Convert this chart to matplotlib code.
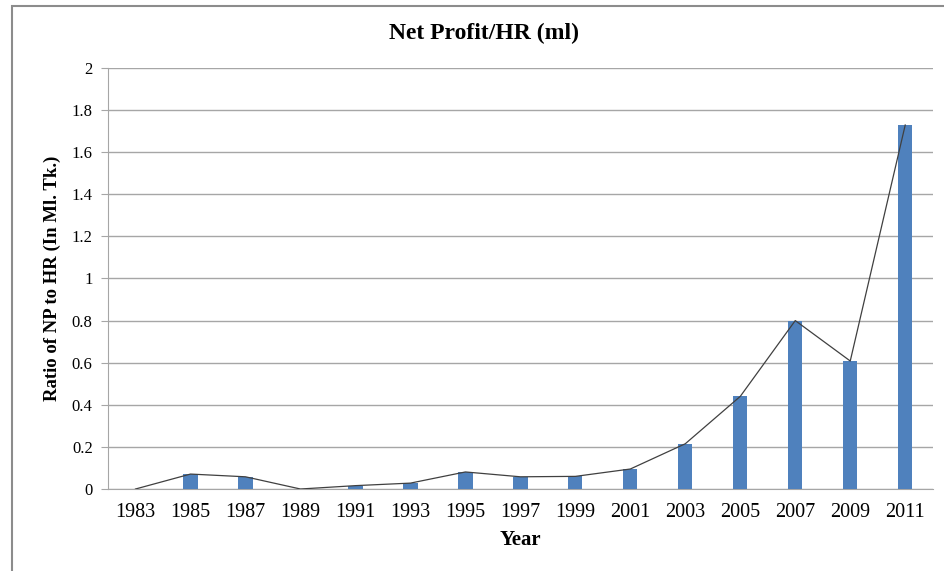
import matplotlib
matplotlib.use('Agg')
import matplotlib.pyplot as plt
from matplotlib.patches import Rectangle
import numpy as np

plt.rcParams['font.family'] = ['Liberation Serif', 'DejaVu Serif']

years = ['1983', '1985', '1987', '1989', '1991', '1993', '1995', '1997',
         '1999', '2001', '2003', '2005', '2007', '2009', '2011']
ratio = [0.0, 0.071, 0.058, 0.0, 0.016, 0.028, 0.081, 0.058,
         0.06, 0.095, 0.215, 0.44, 0.80, 0.608, 1.729]
y_ticks = [0, 0.2, 0.4, 0.6, 0.8, 1, 1.2, 1.4, 1.6, 1.8, 2]
y_tick_labels = ['0', '0.2', '0.4', '0.6', '0.8', '1', '1.2', '1.4', '1.6', '1.8', '2']

fig = plt.figure(figsize=(9.45, 5.71), dpi=100)
ax = fig.add_axes([0.1143, 0.1436, 0.8727, 0.7374])

# outer frame of the picture
fig.patches.append(Rectangle((12 / 945, -0.1), 1.2, 1.1 - 6 / 571, transform=fig.transFigure,
                             fill=False, edgecolor='#8c8c8c', lw=1.5))

x = np.arange(len(years))
ax.bar(x, ratio, width=0.26, color='#4f81bd', zorder=3)
ax.plot(x, ratio, color='#404040', lw=0.9, zorder=4)

ax.set_xlim(-0.5, len(years) - 0.5)
ax.set_ylim(0, 2)
ax.set_yticks(y_ticks)
ax.set_yticklabels(y_tick_labels)
ax.set_xticks(x)
ax.set_xticklabels(years)
ax.grid(axis='y', color='#a6a6a6', lw=1, zorder=0)

for s in ['top', 'right']:
    ax.spines[s].set_visible(False)
ax.spines['left'].set_color('#a6a6a6')
ax.spines['bottom'].set_color('#a6a6a6')
ax.tick_params(axis='y', length=5, color='#a6a6a6', labelsize=12, pad=6)
ax.tick_params(axis='x', length=0, labelsize=14.5, pad=10)

fig.text(0.512, 0.942, 'Net Profit/HR (ml)', ha='center', va='center',
         fontsize=17, fontweight='bold')
ax.set_xlabel('Year', fontsize=15, fontweight='bold', labelpad=6)
ax.set_ylabel('Ratio of NP to HR (In Ml. Tk.)', fontsize=13.5, fontweight='bold', labelpad=8)

fig.savefig('out.png', dpi=100)
